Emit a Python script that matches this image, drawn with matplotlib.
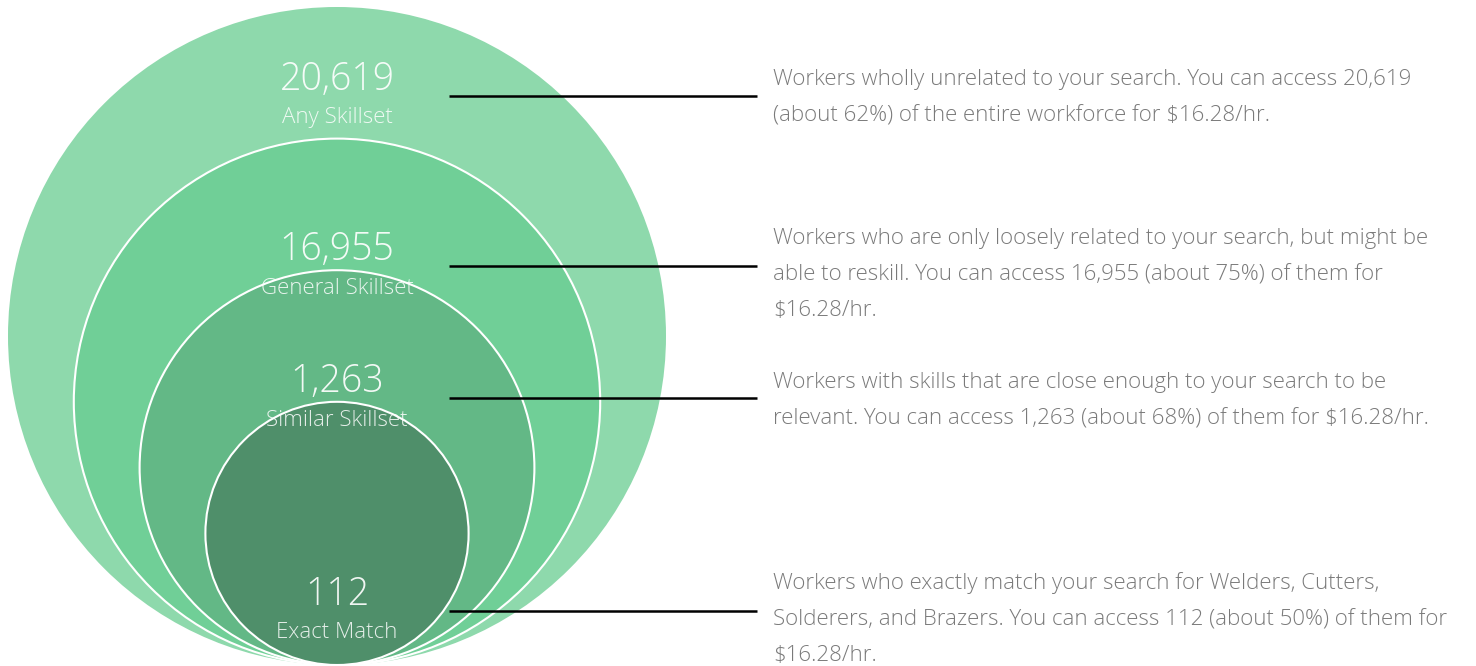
import matplotlib.pyplot as plt
from matplotlib.patches import Circle

# Data
counts = ["20,619", "16,955", "1,263", "112"]
labels = ["Any Skillset", "General Skillset", "Similar Skillset", "Exact Match"]
descriptions = [
    "Workers wholly unrelated to your search. You can access 20,619\n(about 62%) of the entire workforce for $16.28/hr.",
    "Workers who are only loosely related to your search, but might be\nable to reskill. You can access 16,955 (about 75%) of them for\n$16.28/hr.",
    "Workers with skills that are close enough to your search to be\nrelevant. You can access 1,263 (about 68%) of them for $16.28/hr.",
    "Workers who exactly match your search for Welders, Cutters,\nSolderers, and Brazers. You can access 112 (about 50%) of them for\n$16.28/hr.",
]
colors = ["#8ed9ac", "#70cf97", "#63b886", "#4f8f6a"]

# layout (pixel coords, y downwards)
W, H = 1476, 666
cx, bottom, R = 337, 665, 329
num_y = [80, 250, 382, 595]
lab_y = [118, 289, 420, 633]
line_y = [96, 266, 398, 611]
desc_y = [78, 237, 381, 581]

fig = plt.figure(figsize=(W / 100, H / 100), dpi=100)
ax = fig.add_axes([0, 0, 1, 1])
ax.set_xlim(0, W)
ax.set_ylim(H, 0)
ax.set_aspect('equal')
ax.axis('off')

font = ['Open Sans', 'DejaVu Sans']

for i, (c, lab) in enumerate(zip(counts, labels)):
    r = R * (1 - 0.2 * i)
    ec = 'none' if i == 0 else 'white'
    ax.add_patch(Circle((cx, bottom - r), r, facecolor=colors[i], edgecolor=ec, lw=1.5, zorder=i))

for i in range(len(counts)):
    ax.text(cx, num_y[i], counts[i], ha='center', va='center', fontsize=27,
            color='white', alpha=0.92, family=font, weight='light', zorder=10)
    ax.text(cx, lab_y[i], labels[i], ha='center', va='center', fontsize=16,
            color='white', alpha=0.85, family=font, weight='light', zorder=10)
    ax.plot([449, 757], [line_y[i], line_y[i]], color='black', lw=1.8, zorder=11,
            solid_capstyle='butt')
    ax.text(773, desc_y[i] - 9, descriptions[i], ha='left', va='top', fontsize=16,
            color='#7a7a7a', family=font, weight='light', linespacing=1.95, zorder=10)

fig.savefig('out.png', dpi=100)
